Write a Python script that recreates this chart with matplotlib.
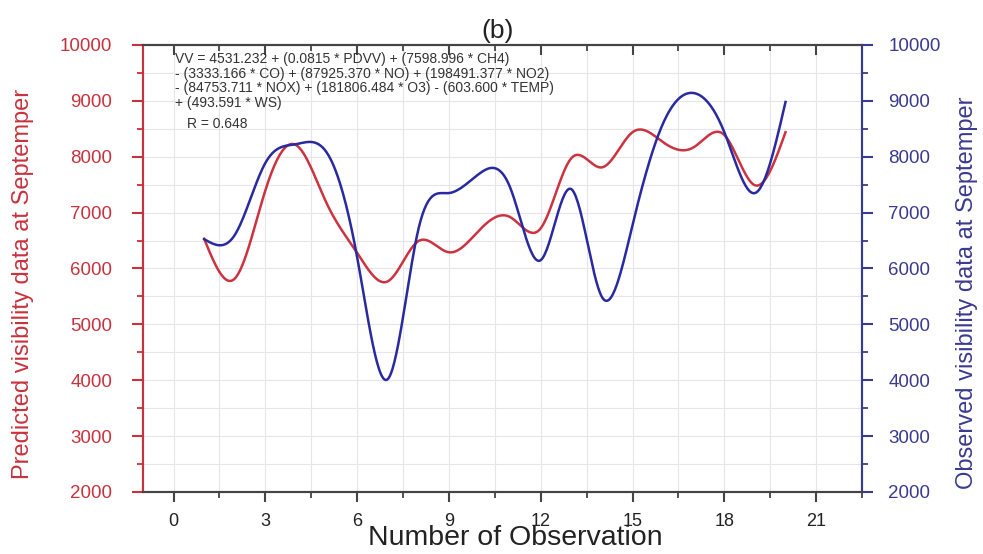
import numpy as np
import matplotlib
matplotlib.use("Agg")
import matplotlib.pyplot as plt
from matplotlib.ticker import MultipleLocator

plt.rcParams['font.family'] = ['Liberation Sans', 'DejaVu Sans']

# ---- data ----
obs_x = list(range(1, 21))
predicted = [6530, 5820, 7400, 8210, 7170, 6280, 5770, 6490, 6290, 6690,
             6920, 6720, 7975, 7810, 8440, 8260, 8170, 8390, 7490, 8440]
observed = [6525, 6600, 7890, 8225, 8080, 6200, 4020, 6700, 7350, 7700,
            7450, 6150, 7420, 5490, 6780, 8600, 9140, 8440, 7350, 8980]
x_ticks = [0, 3, 6, 9, 12, 15, 18, 21]
y_ticks = [2000, 3000, 4000, 5000, 6000, 7000, 8000, 9000, 10000]

equation = ("VV = 4531.232 + (0.0815 * PDVV) + (7598.996 * CH4)\n"
            "- (3333.166 * CO) + (87925.370 * NO) + (198491.377 * NO2)\n"
            "- (84753.711 * NOX) + (181806.484 * O3) - (603.600 * TEMP)\n"
            "+ (493.591 * WS)")
r_text = "R = 0.648"

RED = "#cc3340"
BLUE = "#2a2aa0"
RED_AX = "#c8323c"
BLUE_AX = "#3a3a90"


def natural_spline(x, y, n=600):
    x = np.asarray(x, float)
    y = np.asarray(y, float)
    k = len(x)
    h = np.diff(x)
    A = np.zeros((k, k))
    b = np.zeros(k)
    A[0, 0] = 1
    A[-1, -1] = 1
    for i in range(1, k - 1):
        A[i, i - 1] = h[i - 1]
        A[i, i] = 2 * (h[i - 1] + h[i])
        A[i, i + 1] = h[i]
        b[i] = 6 * ((y[i + 1] - y[i]) / h[i] - (y[i] - y[i - 1]) / h[i - 1])
    M = np.linalg.solve(A, b)
    xs = np.linspace(x[0], x[-1], n)
    idx = np.clip(np.searchsorted(x, xs) - 1, 0, k - 2)
    x0, x1 = x[idx], x[idx + 1]
    hh = x1 - x0
    t0 = x1 - xs
    t1 = xs - x0
    ys = (M[idx] * t0 ** 3 / (6 * hh) + M[idx + 1] * t1 ** 3 / (6 * hh)
          + (y[idx] / hh - M[idx] * hh / 6) * t0
          + (y[idx + 1] / hh - M[idx + 1] * hh / 6) * t1)
    return xs, ys


fig = plt.figure(figsize=(9.83, 5.54), dpi=100)
ax = fig.add_axes([143 / 983, 1 - 492 / 554, (862 - 143) / 983, (492 - 45) / 554])
ax2 = ax.twinx()

ax.set_xlim(-1, 22.5)
ax.set_ylim(2000, 10000)
ax2.set_ylim(2000, 10000)

# grid
ax.xaxis.set_minor_locator(MultipleLocator(1.5))
ax.yaxis.set_minor_locator(MultipleLocator(500))
ax2.yaxis.set_minor_locator(MultipleLocator(500))
ax.set_xticks(x_ticks)
ax.set_yticks(y_ticks)
ax2.set_yticks(y_ticks)
ax.grid(True, which='both', color='#e6e6ea', linewidth=0.8)
ax.set_axisbelow(True)

xs, ys = natural_spline(obs_x, predicted)
ax.plot(xs, ys, color=RED, lw=1.8, zorder=3)
xs2, ys2 = natural_spline(obs_x, observed)
ax2.plot(xs2, ys2, color=BLUE, lw=1.8, zorder=3)

# spines
for a in (ax, ax2):
    a.spines['top'].set_color('#444444')
    a.spines['bottom'].set_color('#444444')
    a.spines['left'].set_color(RED_AX)
    a.spines['right'].set_color(BLUE_AX)
    for s in a.spines.values():
        s.set_linewidth(1.5)

ax.tick_params(axis='x', which='major', direction='out', length=7, width=1.5,
               color='#444444', labelsize=13, labelcolor='#222222', pad=8,
               top=True)
ax.tick_params(axis='x', which='minor', direction='out', length=4, width=1.3,
               color='#444444', top=True)
ax.tick_params(axis='y', which='major', direction='out', length=8, width=1.5,
               color=RED_AX, labelsize=13.5, labelcolor=RED_AX, pad=14)
ax.tick_params(axis='y', which='minor', direction='out', length=4, width=1.3,
               color=RED_AX)
ax2.tick_params(axis='y', which='major', direction='out', length=8, width=1.5,
                color=BLUE_AX, labelsize=13.5, labelcolor=BLUE_AX, pad=11)
ax2.tick_params(axis='y', which='minor', direction='out', length=4, width=1.3,
                color=BLUE_AX)

# top ticks pointing inward
for t in ax.xaxis.get_major_ticks():
    t.tick2line.set_marker(3)  # TICKDOWN
    t.tick2line.set_markersize(7)
for t in ax.xaxis.get_minor_ticks():
    t.tick2line.set_marker(3)
    t.tick2line.set_markersize(4)

ax.set_ylabel("Predicted visibility data at Septemper", color=RED_AX,
              fontsize=17)
ax.yaxis.set_label_coords((34 - 143) / 719, 0.465)
ax2.set_ylabel("Observed visibility data at Septemper", color=BLUE_AX,
               fontsize=17)
ax2.yaxis.set_label_coords((956 - 143) / 719, 0.445)

fig.text(515 / 983, 1 - 545 / 554, "Number of Observation", ha='center',
         va='baseline', fontsize=20.5, color='#222222')
fig.text(498 / 983, 1 - 43 / 554, "(b)", ha='center', va='bottom',
         fontsize=19, color='#222222')

ax.text(175 / 983, 1 - 52 / 554, equation, transform=fig.transFigure,
        ha='left', va='top', fontsize=10, color='#333333', linespacing=1.05,
        zorder=5)
ax.text(187 / 983, 1 - 128 / 554, r_text, transform=fig.transFigure,
        ha='left', va='baseline', fontsize=10, color='#333333', zorder=5)

fig.savefig("out.png", dpi=100)
